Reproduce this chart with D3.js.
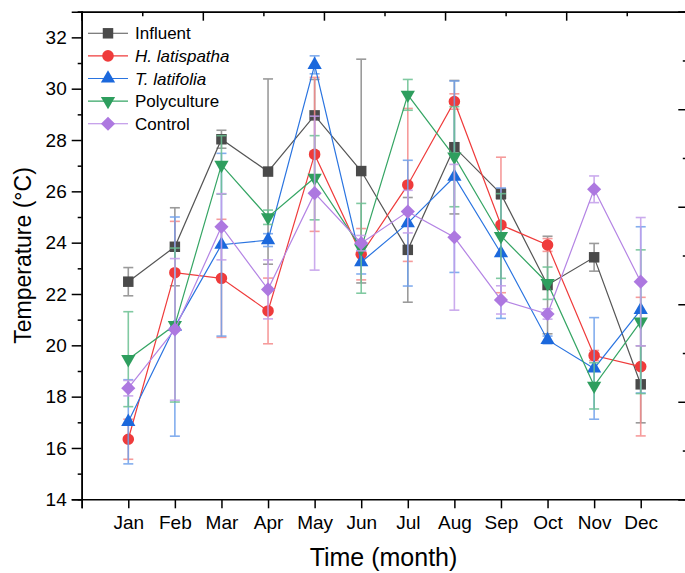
<!DOCTYPE html>
<html>
<head>
<meta charset="utf-8">
<script src="https://cdn.jsdelivr.net/npm/d3@7"></script>
<style>
  body { margin: 0; background: #fff; }
  svg { font-family: "Liberation Sans", Arial, sans-serif; }
</style>
</head>
<body>
<script>
// month labels and values
var months = ["Jan", "Feb", "Mar", "Apr", "May", "Jun", "Jul", "Aug", "Sep", "Oct", "Nov", "Dec"];

var influent    = [22.48, 23.84, 28.03, 26.77, 28.96, 26.79, 23.72, 27.72, 25.90, 22.35, 23.43, 18.48];
var influentErr = [0.55, 1.52, 0.35, 3.61, 1.40, 4.36, 2.04, 2.60, 0.20, 1.90, 0.54, 1.50];

var hLat    = [16.34, 22.83, 22.61, 21.34, 27.44, 23.55, 26.25, 29.50, 24.69, 23.91, 19.60, 19.17];
var hLatErr = [0.78, 2.00, 2.30, 1.28, 3.00, 1.00, 2.98, 0.30, 2.64, 0.25, 0.20, 2.70];

var tLat    = [17.02, 20.73, 23.92, 24.10, 30.93, 23.24, 24.76, 26.57, 23.59, 20.21, 19.10, 21.38];
var tLatErr = [1.64, 4.27, 3.56, 0.25, 0.35, 0.46, 2.45, 3.73, 2.54, 0.15, 1.98, 3.24];

var poly    = [19.46, 20.79, 27.03, 24.99, 26.53, 23.78, 29.76, 27.35, 24.26, 22.42, 18.42, 20.92];
var polyErr = [1.85, 3.00, 1.14, 0.28, 1.64, 1.75, 0.60, 1.95, 1.65, 0.63, 0.90, 2.80];

var control    = [18.33, 20.62, 24.62, 22.18, 25.93, 23.98, 25.21, 24.21, 21.77, 21.22, 26.08, 22.48];
var controlErr = [0.30, 2.76, 1.29, 1.15, 3.00, 0.30, 0.83, 2.84, 0.55, 0.20, 0.52, 2.50];

var yTicks = [14, 16, 18, 20, 22, 24, 26, 28, 30, 32];

var w = 685, h = 573;
var padL = 81.7, padR = 687.3, padT = 11.7, padB = 499.3;

var svg = d3.select("body")
            .append("svg")
            .attr("width", w)
            .attr("height", h);

var xScale = d3.scaleLinear().domain([0, 13]).range([padL, padR]);
var yScale = d3.scaleLinear().domain([14, 33]).range([padB, padT]);

var series = [
  { name: "Influent", vals: influent, err: influentErr, color: "#4a4a4a", line: "#555555", errColor: "#8a8a8a", shape: "square", italic: false },
  { name: "H. latispatha", vals: hLat, err: hLatErr, color: "#ef3b3b", line: "#ef3b3b", errColor: "#f58a8a", shape: "circle", italic: true },
  { name: "T. latifolia", vals: tLat, err: tLatErr, color: "#1b68dc", line: "#2a74e0", errColor: "#6ea0ec", shape: "up", italic: true },
  { name: "Polyculture", vals: poly, err: polyErr, color: "#2e9e5e", line: "#35a564", errColor: "#6cc192", shape: "down", italic: false },
  { name: "Control", vals: control, err: controlErr, color: "#ad78e0", line: "#b484e4", errColor: "#c39deb", shape: "diamond", italic: false }
];

function markerPath(shape) {
  if (shape == "square") return d3.symbol().type(d3.symbolSquare).size(110)();
  if (shape == "circle") return d3.symbol().type(d3.symbolCircle).size(105)();
  if (shape == "up" || shape == "down") return d3.symbol().type(d3.symbolTriangle).size(88)();
  return d3.symbol().type(d3.symbolSquare).size(100)();
}
function markerRot(shape) {
  if (shape == "down") return 180;
  if (shape == "diamond") return 45;
  return 0;
}

// axes
var yAxis = d3.axisLeft(yScale).tickValues(yTicks).tickSize(10).tickPadding(5);
var yMinor = d3.axisLeft(yScale).tickValues(d3.range(15, 34, 2)).tickSize(4).tickFormat("");
var xAxis = d3.axisBottom(xScale).tickValues(d3.range(0, 14)).tickSize(9).tickPadding(7)
              .tickFormat(function(d) { return (d >= 1 && d <= 12) ? months[d - 1] : ""; });

// top and right axes carry ticks only
var topScale = d3.scaleLinear().domain([0, 10]).range([padL, padR]);
var topMajor = d3.axisBottom(topScale).tickValues([0, 2, 4, 6, 8, 10]).tickSize(9).tickFormat("");
var topMinor = d3.axisBottom(topScale).tickValues([1, 3, 5, 7, 9]).tickSize(4.5).tickFormat("");
var rightScale = d3.scaleLinear().domain([0, 10]).range([padB, padT]);
var rightMajor = d3.axisLeft(rightScale).tickValues([0, 2, 4, 6, 8, 10]).tickSize(9).tickFormat("");
var rightMinor = d3.axisLeft(rightScale).tickValues([1, 3, 5, 7, 9]).tickSize(4.5).tickFormat("");

function styleAxis(g) {
  g.selectAll("path").attr("stroke", "#000").attr("stroke-width", 1.6);
  g.selectAll("line").attr("stroke", "#000").attr("stroke-width", 1.5);
  g.selectAll("text").attr("fill", "#000").style("font-size", "19px");
}

svg.append("g").attr("transform", "translate(0," + padT + ")").call(topMajor).call(styleAxis);
svg.append("g").attr("transform", "translate(0," + padT + ")").call(topMinor).call(styleAxis);
svg.append("g").attr("transform", "translate(" + padR + ",0)").call(rightMajor).call(styleAxis);
svg.append("g").attr("transform", "translate(" + padR + ",0)").call(rightMinor).call(styleAxis);
svg.append("g").attr("transform", "translate(" + padL + ",0)").call(yMinor).call(styleAxis);
svg.append("g").attr("transform", "translate(" + padL + ",0)").call(yAxis).call(styleAxis);
svg.append("g").attr("transform", "translate(0," + padB + ")").call(xAxis).call(styleAxis);

// series: error bars, line, markers
series.forEach(function(s) {
  var g = svg.append("g");
  var pts = s.vals.map(function(v, i) { return { m: i + 1, v: v, e: s.err[i] }; });

  var eb = g.selectAll(".eb").data(pts).enter().append("g").attr("opacity", 0.85);
  eb.append("line")
    .attr("x1", function(d) { return xScale(d.m); })
    .attr("x2", function(d) { return xScale(d.m); })
    .attr("y1", function(d) { return yScale(d.v + d.e); })
    .attr("y2", function(d) { return yScale(d.v - d.e); })
    .attr("stroke", s.errColor).attr("stroke-width", 1.6);
  [1, -1].forEach(function(sign) {
    eb.append("line")
      .attr("x1", function(d) { return xScale(d.m) - 5; })
      .attr("x2", function(d) { return xScale(d.m) + 5; })
      .attr("y1", function(d) { return yScale(d.v + sign * d.e); })
      .attr("y2", function(d) { return yScale(d.v + sign * d.e); })
      .attr("stroke", s.errColor).attr("stroke-width", 1.6);
  });

  var line = d3.line()
               .x(function(d) { return xScale(d.m); })
               .y(function(d) { return yScale(d.v); });
  g.append("path").datum(pts)
    .attr("d", line)
    .attr("fill", "none")
    .attr("stroke", s.line)
    .attr("stroke-width", 1.2);

  g.selectAll(".mk").data(pts).enter().append("path")
    .attr("d", markerPath(s.shape))
    .attr("transform", function(d) {
      return "translate(" + xScale(d.m) + "," + yScale(d.v) + ") rotate(" + markerRot(s.shape) + ")";
    })
    .attr("fill", s.color);
});

// legend
var legend = svg.append("g");
series.forEach(function(s, i) {
  var ly = 33.3 + i * 22.6;
  legend.append("line").attr("x1", 88).attr("x2", 128).attr("y1", ly).attr("y2", ly)
        .attr("stroke", s.line).attr("stroke-width", 1.1);
  legend.append("path").attr("d", markerPath(s.shape))
        .attr("transform", "translate(108," + ly + ") rotate(" + markerRot(s.shape) + ")")
        .attr("fill", s.color);
  legend.append("text").attr("x", 135).attr("y", ly + 6)
        .style("font-size", "17px")
        .style("font-style", s.italic ? "italic" : "normal")
        .text(s.name);
});

// axis titles
svg.append("text")
   .attr("transform", "translate(31," + ((padT + padB) / 2) + ") rotate(-90)")
   .attr("text-anchor", "middle")
   .style("font-size", "23px")
   .text("Temperature (°C)");

svg.append("text")
   .attr("x", (padL + padR) / 2 - 1)
   .attr("y", 566)
   .attr("text-anchor", "middle")
   .style("font-size", "25px")
   .text("Time (month)");
</script>
</body>
</html>
